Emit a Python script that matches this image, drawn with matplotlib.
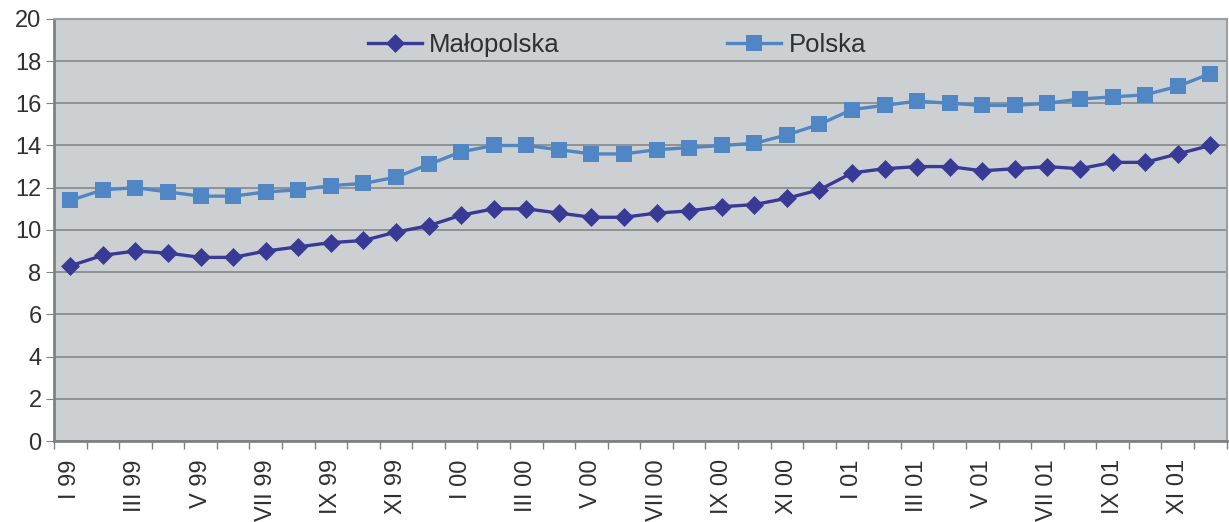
import matplotlib
matplotlib.use("Agg")
import matplotlib.pyplot as plt
import numpy as np

plt.rcParams['font.family'] = ['Liberation Sans', 'DejaVu Sans']

# months I 99 .. XII 01
roman = ["I", "II", "III", "IV", "V", "VI", "VII", "VIII", "IX", "X", "XI", "XII"]
years = ["99", "00", "01"]
months = [r + " " + y for y in years for r in roman]

malopolska = [8.3, 8.8, 9.0, 8.9, 8.7, 8.7, 9.0, 9.2, 9.4, 9.5, 9.9, 10.2,
              10.7, 11.0, 11.0, 10.8, 10.6, 10.6, 10.8, 10.9, 11.1, 11.2, 11.5, 11.9,
              12.7, 12.9, 13.0, 13.0, 12.8, 12.9, 13.0, 12.9, 13.2, 13.2, 13.6, 14.0]
polska = [11.4, 11.9, 12.0, 11.8, 11.6, 11.6, 11.8, 11.9, 12.1, 12.2, 12.5, 13.1,
          13.7, 14.0, 14.0, 13.8, 13.6, 13.6, 13.8, 13.9, 14.0, 14.1, 14.5, 15.0,
          15.7, 15.9, 16.1, 16.0, 15.9, 15.9, 16.0, 16.2, 16.3, 16.4, 16.8, 17.4]

x = np.arange(len(months))

fig = plt.figure(figsize=(12.29, 5.22), dpi=100)
ax = fig.add_axes([0.044, 0.155, 0.954, 0.809])
ax.set_facecolor("#cdd0d2")

ax.plot(x, malopolska, color="#383a96", lw=2.4, marker="D", ms=9,
        mew=0.5, label="Małopolska", zorder=3)
ax.plot(x, polska, color="#4f86c3", lw=2.4, marker="s", ms=12,
        mew=0, label="Polska", zorder=3)

ax.set_xlim(-0.5, len(months) - 0.5)
ax.set_ylim(0, 20)
ax.set_yticks(np.arange(0, 21, 2))
ax.grid(axis="y", color="#85898c", lw=1.2)
ax.set_axisbelow(True)

# ticks between categories, labels every other month
ax.set_xticks(np.arange(-0.5, len(months), 1))
ax.set_xticklabels([])
ax.set_xticks(x[::2], minor=True)
ax.set_xticklabels(months[::2], minor=True, rotation=90, fontsize=17, color="#303030")
ax.tick_params(axis="x", which="major", length=6, color="#7d8285", width=1)
ax.tick_params(axis="x", which="minor", length=0, pad=13)
ax.tick_params(axis="y", length=6, color="#7d8285", labelsize=17, labelcolor="#303030", pad=3)

for s in ["left", "bottom"]:
    ax.spines[s].set_color("#7d8285")
    ax.spines[s].set_linewidth(2)
for s in ["top", "right"]:
    ax.spines[s].set_color("#9a9fa2")
    ax.spines[s].set_linewidth(1.5)

ax.legend(loc="upper center", bbox_to_anchor=(0.48, 1.02), ncol=2, frameon=False,
          fontsize=18.5, columnspacing=6.5, handlelength=2.1, handletextpad=0.3,
          labelcolor="#303030")

fig.savefig("out.png", dpi=100)
